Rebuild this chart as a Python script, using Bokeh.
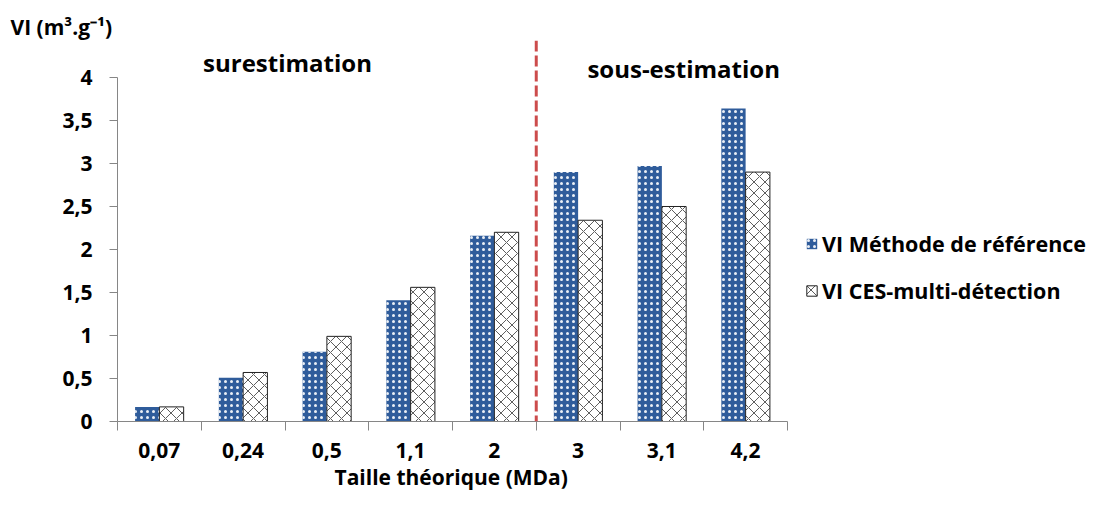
from bokeh.plotting import figure
from bokeh.models import (ColumnDataSource, Range1d, FixedTicker, CustomJSTickFormatter,
                          Legend, LegendItem, Span, Label, Title)
from bokeh.transform import dodge
from bokeh.embed import file_html
from bokeh.resources import INLINE

categories = ["0,07", "0,24", "0,5", "1,1", "2", "3", "3,1", "4,2"]
vi_reference = [0.17, 0.51, 0.81, 1.41, 2.16, 2.90, 2.97, 3.64]
vi_ces = [0.17, 0.57, 0.99, 1.56, 2.20, 2.34, 2.50, 2.90]
y_ticks = [0, 0.5, 1, 1.5, 2, 2.5, 3, 3.5, 4]
series_names = ["VI Méthode de référence", "VI CES-multi-détection"]
x_title = "Taille théorique (MDa)"
y_title = "VI (m³.g⁻¹)"
split_category = "3"

FONT = "Open Sans"
FS = "21px"

n = len(categories)
src = ColumnDataSource(dict(
    x=[i + 0.5 for i in range(n)],
    ref=vi_reference,
    ces=vi_ces,
))

W, H = 1093, 490
LEFT, TOP, BOTTOM = 117, 40, 69
axis_px = 670  # pixel length of the category axis
x_end = n * (W - LEFT) / axis_px

p = figure(width=W, height=H, output_backend="svg", toolbar_location=None,
           x_range=Range1d(0, x_end), y_range=Range1d(0, 4.43),
           min_border_left=LEFT, min_border_right=0, min_border_top=TOP, min_border_bottom=BOTTOM)
p.outline_line_color = None
p.xgrid.visible = False
p.ygrid.visible = False
p.background_fill_color = "white"
p.border_fill_color = "white"

# y-axis title shown as plot title at top-left
p.title.text = y_title
p.title.align = "left"
p.title.offset = -107
p.title.standoff = 0
p.title.text_font = FONT
p.title.text_font_style = "bold"
p.title.text_font_size = FS
p.title.text_color = "black"

bw = 0.29
r1 = p.vbar(x=dodge("x", -bw / 2, range=p.x_range), top="ref", width=bw, bottom=0, source=src,
            fill_color="#2F5C9B", line_color=None,
            hatch_pattern="dot", hatch_color="white", hatch_scale=6, hatch_weight=1.2, hatch_alpha=0.9)
r2 = p.vbar(x=dodge("x", bw / 2, range=p.x_range), top="ces", width=bw, bottom=0, source=src,
            fill_color="white", line_color="#222222", line_width=1,
            hatch_pattern="diagonal_cross", hatch_color="#333333", hatch_scale=11, hatch_weight=0.8)

# x axis
xa = p.xaxis[0]
xa.bounds = (0, n)
xa.ticker = FixedTicker(ticks=[i + 0.5 for i in range(n)], minor_ticks=list(range(n + 1)))
xa.formatter = CustomJSTickFormatter(args=dict(labels=categories),
                                     code="return labels[Math.floor(tick)];")
xa.major_tick_out = 0
xa.major_tick_in = 0
xa.minor_tick_out = 9
xa.minor_tick_in = 0
xa.minor_tick_line_color = "#868686"
xa.axis_line_color = "#868686"
xa.major_label_standoff = 12
xa.major_label_text_font = FONT
xa.major_label_text_font_style = "bold"
xa.major_label_text_font_size = FS
xa.major_label_text_color = "black"

# x-axis title, centred under the category axis
xt = Title(text=x_title, align="left", offset=217, standoff=0,
           text_font=FONT, text_font_style="bold", text_font_size=FS, text_color="black")
p.add_layout(xt, "below")

# y axis
ya = p.yaxis[0]
ya.ticker = FixedTicker(ticks=y_ticks)
ya.bounds = (0, 4)
ya.formatter = CustomJSTickFormatter(code="return tick.toString().replace('.', ',');")
ya.major_tick_out = 8
ya.major_tick_in = 0
ya.minor_tick_out = 0
ya.minor_tick_in = 0
ya.major_tick_line_color = "#868686"
ya.axis_line_color = "#868686"
ya.major_label_standoff = 17
ya.major_label_text_font = FONT
ya.major_label_text_font_style = "bold"
ya.major_label_text_font_size = FS
ya.major_label_text_color = "black"

# split line
split = Span(location=categories.index(split_category), dimension="height",
             line_color="#CC4C4C", line_width=3, line_dash="11 4")
p.add_layout(split)

# annotations
for txt, x, y in [("surestimation", 2.03, 4.17), ("sous-estimation", 6.76, 4.10)]:
    p.add_layout(Label(x=x, y=y, text=txt, text_align="center", text_baseline="middle",
                       text_font=FONT, text_font_style="bold", text_font_size="24px",
                       text_color="black"))

legend = Legend(items=[LegendItem(label=series_names[0], renderers=[r1]),
                       LegendItem(label=series_names[1], renderers=[r2])],
                location=(688, 116), orientation="vertical")
legend.border_line_color = None
legend.background_fill_alpha = 0
legend.padding = 0
legend.margin = 0
legend.glyph_width = 13
legend.glyph_height = 13
legend.label_height = 24
legend.spacing = 18
legend.label_standoff = 4
legend.label_text_font = FONT
legend.label_text_font_style = "bold"
legend.label_text_font_size = "21.5px"
legend.label_text_color = "black"
p.add_layout(legend)

open("out.html", "w").write(file_html(p, INLINE))
